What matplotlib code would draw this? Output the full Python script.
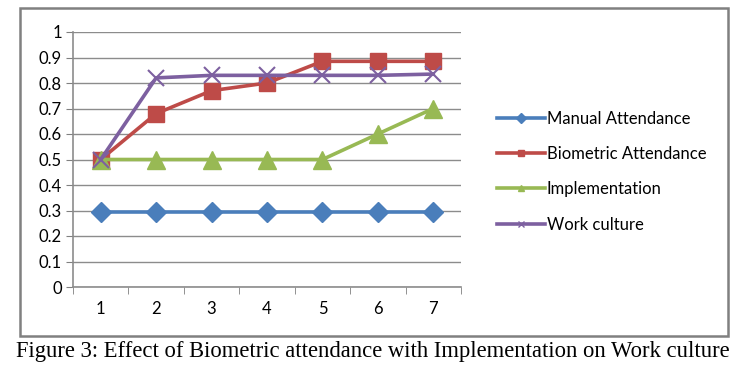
import numpy as np
import matplotlib
matplotlib.use('Agg')
import matplotlib.pyplot as plt
from matplotlib.patches import Rectangle

# data
points = [1, 2, 3, 4, 5, 6, 7]
manual = [0.295, 0.295, 0.295, 0.295, 0.295, 0.295, 0.295]
biometric = [0.5, 0.68, 0.77, 0.80, 0.885, 0.885, 0.885]
implementation = [0.5, 0.5, 0.5, 0.5, 0.5, 0.6, 0.7]
work_culture = [0.5, 0.82, 0.83, 0.83, 0.83, 0.83, 0.835]
yticks = [0, 0.1, 0.2, 0.3, 0.4, 0.5, 0.6, 0.7, 0.8, 0.9, 1]
ylabels = ['0', '0.1', '0.2', '0.3', '0.4', '0.5', '0.6', '0.7', '0.8', '0.9', '1']
caption = 'Figure 3: Effect of Biometric attendance with Implementation on Work culture'

tickfont = 'Lato'
lw = 2.6

fig = plt.figure(figsize=(7.46, 3.74), dpi=100)

# outer chart frame
fig.patches.append(Rectangle((20/746, 1-336/374), 708/746, 328/374, transform=fig.transFigure,
                             fill=False, edgecolor='#808080', linewidth=1.8))

ax = fig.add_axes([73/746, 1-287/374, 388/746, 255/374])

ax.plot(points, manual, color='#4A7EBB', linewidth=lw, marker='D', markersize=10,
        label='Manual Attendance', zorder=3)
ax.plot(points, biometric, color='#BE4B48', linewidth=lw, marker='s', markersize=12,
        label='Biometric Attendance', zorder=3)
ax.plot(points, implementation, color='#98B954', linewidth=lw, marker='^', markersize=13,
        label='Implementation', zorder=3)
ax.plot(points, work_culture, color='#7D60A0', linewidth=lw, marker='x', markersize=11,
        markeredgewidth=1.5, label='Work culture', zorder=4)

ax.set_xlim(0.5, 7.5)
ax.set_ylim(0, 1)
ax.set_yticks(yticks)
ax.set_yticklabels(ylabels, fontsize=12, family=tickfont)
ax.set_xticks(points)
ax.set_xticklabels([str(p) for p in points], fontsize=12, family=tickfont)
ax.set_xticks(np.arange(0.5, 8, 1), minor=True)
ax.tick_params(axis='x', which='major', length=0, pad=10)
ax.tick_params(axis='x', which='minor', length=5, color='#808080')
ax.tick_params(axis='y', length=5, color='#808080', pad=3)

ax.grid(axis='y', color='#8c8c8c', linewidth=1)
ax.set_axisbelow(True)
for s in ['top', 'right']:
    ax.spines[s].set_visible(False)
for s in ['left', 'bottom']:
    ax.spines[s].set_color('#8c8c8c')
    ax.spines[s].set_linewidth(1.2)

# legend with small markers like excel
handles = [plt.Line2D([], [], color=l.get_color(), linewidth=lw, marker=l.get_marker(),
                      markersize=5, markeredgewidth=1) for l in ax.get_lines()]
fig.legend(handles, [l.get_label() for l in ax.get_lines()], loc='upper left',
           bbox_to_anchor=(482/746, 1-96/374), frameon=False, handlelength=2.9,
           handletextpad=0.1, labelspacing=1.15, prop={'family': tickfont, 'size': 12})

fig.text(0.5, 1-351/374, caption, ha='center', va='center', fontsize=16.3,
         family='Liberation Serif')

fig.savefig('out.png', dpi=100)
